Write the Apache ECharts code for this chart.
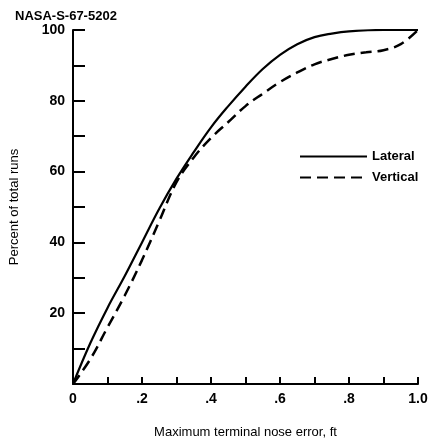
<!DOCTYPE html>
<html>
<head>
<meta charset="utf-8">
<script src="https://cdn.jsdelivr.net/npm/echarts@6/dist/echarts.min.js"></script>
<style>html,body{margin:0;padding:0;background:#fff}#c{width:431px;height:444px}</style>
</head>
<body>
<div id="c"></div>
<script>
const lateralX = [0, 0.05, 0.1, 0.15, 0.2, 0.25, 0.3, 0.35, 0.4, 0.45, 0.5, 0.55, 0.6, 0.65, 0.7, 0.75, 0.8, 0.9, 1.0];
const lateralY = [0, 11.5, 21.5, 30.5, 40, 49.5, 58, 65.5, 72.5, 78.5, 84, 89, 93, 96, 98, 99, 99.6, 100, 100];
const verticalX = [0, 0.05, 0.1, 0.15, 0.2, 0.25, 0.3, 0.35, 0.4, 0.45, 0.5, 0.55, 0.6, 0.65, 0.7, 0.75, 0.8, 0.85, 0.9, 0.95, 1.0];
const verticalY = [0, 7, 16, 25, 35, 46, 57, 64, 69.5, 74, 78.5, 82, 85.3, 88, 90.3, 91.8, 93, 93.7, 94.3, 96, 100];
const seriesNames = ['Lateral', 'Vertical'];
const xTickLabels = ['0', '.2', '.4', '.6', '.8', '1.0'];
const yTickLabels = ['20', '40', '60', '80', '100'];
const titleText = 'NASA-S-67-5202';
const xName = 'Maximum terminal nose error, ft';
const yName = 'Percent of total runs';

const zip = (xs, ys) => xs.map((x, i) => [x, ys[i]]);
const font = 'Liberation Sans';
const chart = echarts.init(document.getElementById('c'), null, {renderer: 'canvas'});
chart.setOption({
  animation: false,
  backgroundColor: '#fff',
  title: {text: titleText, left: 10, top: 5, textStyle: {fontFamily: font, fontSize: 13, fontWeight: 'bold', color: '#000'}},
  grid: {left: 67, right: 13, top: 30, bottom: 55, containLabel: false},
  legend: {
    orient: 'vertical', left: 294, top: 145, itemWidth: 67, itemHeight: 14, itemGap: 8,
    data: seriesNames,
    itemStyle: {opacity: 0},
    textStyle: {fontFamily: font, fontSize: 13, fontWeight: 'bold', color: '#000'}
  },
  xAxis: {
    type: 'value', min: 0, max: 1, interval: 0.1,
    name: xName, nameLocation: 'middle', nameGap: 42,
    nameTextStyle: {fontFamily: font, fontSize: 13, color: '#000'},
    axisLine: {show: true, lineStyle: {color: '#000', width: 2}},
    axisTick: {show: true, inside: true, length: 7, lineStyle: {color: '#000', width: 2}},
    splitLine: {show: false},
    axisLabel: {
      margin: 8, fontFamily: font, fontSize: 14, fontWeight: 'bold', color: '#000',
      formatter: v => { const n = Math.round(v * 10); return n % 2 === 0 ? xTickLabels[n / 2] : ''; }
    }
  },
  yAxis: {
    type: 'value', min: 0, max: 100, interval: 10,
    name: yName, nameLocation: 'middle', nameGap: 52, nameRotate: 90,
    nameTextStyle: {fontFamily: font, fontSize: 13, color: '#000'},
    axisLine: {show: true, lineStyle: {color: '#000', width: 2}},
    axisTick: {show: true, inside: true, length: 12, lineStyle: {color: '#000', width: 2}},
    splitLine: {show: false},
    axisLabel: {
      margin: 8, fontFamily: font, fontSize: 14, fontWeight: 'bold', color: '#000',
      formatter: v => { const n = Math.round(v / 10); return (n % 2 === 0 && n > 0) ? yTickLabels[n / 2 - 1] : ''; }
    }
  },
  series: [
    {name: seriesNames[0], type: 'line', smooth: 0.4, symbol: 'none', data: zip(lateralX, lateralY),
     lineStyle: {color: '#000', width: 2.2, type: 'solid'}, itemStyle: {color: '#000'}},
    {name: seriesNames[1], type: 'line', smooth: 0.4, symbol: 'none', data: zip(verticalX, verticalY),
     lineStyle: {color: '#000', width: 2.5, type: [11, 6]}, itemStyle: {color: '#000'}}
  ]
});
</script>
</body>
</html>
